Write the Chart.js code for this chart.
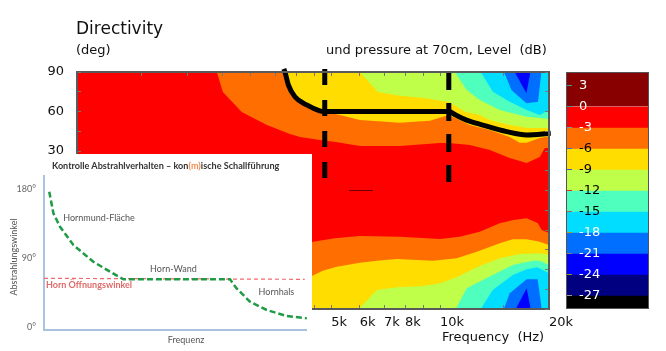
<!DOCTYPE html>
<html>
<head>
<meta charset="utf-8">
<script src="https://cdn.jsdelivr.net/npm/chart.js@4"></script>
<style>
  html, body { margin: 0; padding: 0; background: #fff; }
  body { position: relative; width: 666px; height: 351px; overflow: hidden; font-family: "DejaVu Sans", sans-serif; color: #111; }
  .txt { position: absolute; white-space: pre; font-size: 13px; line-height: 16px; }
  #main { position: absolute; left: 0; top: 0; }
  #barBox { position: absolute; left: 566px; top: 72px; width: 81px; height: 235px; border: 1px solid #555; }
  #barBox canvas { display: block; }
  #inset { position: absolute; left: 0; top: 154px; width: 312px; height: 197px; background: #fff; }
  #inset canvas { position: absolute; left: 0; top: 0; filter: blur(0.35px); }
  #insetTitle { position: absolute; left: 52px; top: 6px; font: bold 9.1px Lato, sans-serif; color: #333; white-space: pre; filter: blur(0.3px); }
  #insetTitle span { color: #f08a50; }
</style>
</head>
<body>
<canvas id="main" width="666" height="351"></canvas>
<div class="txt" style="left:76px;top:18px;font-size:17px;line-height:20px">Directivity</div>
<div class="txt" style="left:76px;top:42px">(deg)</div>
<div class="txt" style="left:326px;top:42px">und pressure at 70cm, Level  (dB)</div>
<div id="barBox"><canvas id="bar" width="81" height="235"></canvas></div>
<div id="inset">
  <canvas id="insetChart" width="312" height="197"></canvas>
  <div id="insetTitle">Kontrolle Abstrahlverhalten – kon<span>(m)</span>ische Schallführung</div>
</div>
<script>
// contour lines: [Hz, deg]
const up3 = [[2415,90],[2510,74.8],[2830,59.6],[3322,49.7],[3845,42.9],[4100,40.6],[4650,38.4],[5150,36.8],[6000,33.8],[7740,33.8],[9980,36.1],[10570,36],[12080,34.6],[13715,30.8],[15575,24.7],[17350,20.9],[18860,25.4],[19470,32.3],[20000,32.3]];
const up6 = [[3725,90],[3845,74.8],[4100,68.7],[4800,59.6],[5285,57.3],[6000,53.5],[7740,51.5],[9370,53],[10570,57.3],[12080,49.7],[13715,45.9],[15575,40.6],[16600,36.3],[17350,36.3],[18860,39.9],[20000,41.2]];
const up9 = [[6000,90],[6730,74.8],[7740,72],[9015,70.3],[10570,67.2],[11770,59.6],[12870,57.3],[13715,53.5],[15575,49.7],[17470,47.5],[20000,47.5]];
const up12 = [[10980,90],[11850,76.3],[12870,68.7],[14620,61.1],[17350,56],[20000,54.3]];
const up15 = [[12950,90],[13990,75],[15575,67.4],[17350,61.1],[18860,57.3],[20000,61.1]];
const up18 = [[15020,90],[15750,76.3],[17320,66.2],[18650,67.4],[19050,90]];
const up21 = [[16080,90],[17320,73.8],[17770,90]];

const low3 = [[4100,-41.5],[4450,-38.9],[5120,-36.3],[6000,-34.6],[7740,-35.1],[9980,-36.8],[11330,-35.1],[12870,-31.3],[14620,-24.9],[15980,-22.4],[17350,-21.1],[18600,-24.7],[19100,-30],[20000,-32.3]];
const low6 = [[4100,-68],[4420,-64.9],[4740,-60.9],[5180,-57.9],[6000,-54.8],[6690,-53.3],[7600,-52],[9550,-53.3],[11120,-51.5],[12630,-46.5],[14620,-40.1],[15880,-37.1],[17350,-37.1],[18860,-38.9],[20000,-41.4]];
const low9 = [[5960,-90],[6690,-75.6],[7600,-73.5],[8960,-72.5],[10000,-70.5],[11120,-65.9],[12630,-58.3],[14620,-51.5],[16600,-48.2],[18860,-47.7],[20000,-49]];
const low12 = [[11050,-90],[11850,-74.3],[13980,-64.2],[15880,-56.6],[18030,-53.3],[18860,-53.3],[20000,-56.6]];
const low15 = [[12950,-90],[13980,-75.6],[15880,-64.2],[17350,-59.9],[18600,-58.3],[20000,-62.9]];
const low18 = [[15000,-90],[15575,-78],[17350,-67.4],[18600,-67.4],[19100,-90]];
const low21 = [[16190,-90],[17350,-74.3],[17800,-90]];

const redBase = [[992,90],[20000,90]];
const darkMark = [[5600,0],[6520,0]];

// black lines drawn over the plot
const overlayCurve = [[3700,92.3],[3725,90.2],[3810,80],[3970,71.2],[4280,65],[4650,60.5],[4800,60],[10570,60],[11050,57.3],[11830,53.5],[13120,49.7],[15280,44.7],[17350,42.2],[20220,43.4]];
const overlayDashA = [[4800,92.3],[4800,9.5]];
const overlayDashB = [[10570,90],[10570,6.4]];

const freqTicks = [1500,2000,2500,3000,3500,4000,4500,5000,6000,7000,8000,9000,10000,15000,20000];
const freqLabels = {5000:'5k',6000:'6k',7000:'7k',8000:'8k',10000:'10k',20000:'20k'};
const levelTicks = [3,0,-3,-6,-9,-12,-15,-18,-21,-24,-27];
const levelLow = [0,-3,-6,-9,-12,-15,-18,-21,-24,-27,-30];
const levelHigh = [6,0,-3,-6,-9,-12,-15,-18,-21,-24,-27];
const levelColors = ['#880000','#ff0000','#ff6e00','#ffdd00','#bfff4a','#4fffbe','#00ddff','#006eff','#0000ff','#000080','#000000'];
const levelTickColors = ['#3a9a9a','#3a9a9a','#7a9a9a','#3a6acc','#3a5ac8','#e03030','#a06a50','#a8a020','#808080','#909020','#999999'];

// inset: percent of the frequency axis, deg
const insetCurve = [[2,176.5],[3.6,148.3],[6.1,130.8],[11.2,107],[18.8,85.2],[25.2,72.2],[30.3,62.2],[46.8,62.2],[71,62.2],[73.5,50.4],[78.6,33],[85,22.2],[92.6,14.3],[100.3,11.3]];
const insetOpening = [[0,63.5],[99.5,62.2]];
const insetTicks = [0,90,180];
const insetNotes = [
  {text:'Hornmund-Fläche', x:21, y:142, color:'#555'},
  {text:'Horn-Wand', x:49.4, y:75.7, color:'#555'},
  {text:'Horn Öffnungswinkel', x:17.2, y:54.8, color:'#e06a6a', weight:'bold'},
  {text:'Hornhals', x:88.7, y:45.7, color:'#555'},
  {text:'Frequenz', x:54.2, y:-17, color:'#555'},
  {text:'Abstrahlungswinkel', x:-11.5, y:91.3, color:'#555', rot:-Math.PI/2}
];

const toPts = arr => arr.map(p => ({x: p[0], y: p[1]}));
const band = (pts, color, fill) => ({data: toPts(pts), backgroundColor: color, borderWidth: 0, borderColor: color, fill: fill, pointRadius: 0, showLine: true});
const ink = (pts, width, dash, mode) => ({data: toPts(pts), borderColor: '#000', borderWidth: width, borderDash: dash, cubicInterpolationMode: mode, fill: false, pointRadius: 0, showLine: true, clip: false});

const mainSets = [
  band(redBase, '#ff0000', 'start'),
  band(up3, levelColors[2], 'end'), band(up6, levelColors[3], 'end'), band(up9, levelColors[4], 'end'),
  band(up12, levelColors[5], 'end'), band(up15, levelColors[6], 'end'), band(up18, levelColors[7], 'end'), band(up21, levelColors[8], 'end'),
  band(low3, levelColors[2], 'start'), band(low6, levelColors[3], 'start'), band(low9, levelColors[4], 'start'),
  band(low12, levelColors[5], 'start'), band(low15, levelColors[6], 'start'), band(low18, levelColors[7], 'start'), band(low21, levelColors[8], 'start'),
  Object.assign(ink(darkMark, 1, [], 'default'), {borderColor: '#700000'}),
  ink(overlayCurve, 5, [], 'monotone'),
  ink(overlayDashA, 5, [16,15], 'default'),
  ink(overlayDashB, 5, [18,13], 'default')
];
// first dataset ends up on top otherwise
mainSets.forEach((d, i) => { d.order = mainSets.length - i; });

const axisGrey = '#5a5a5a';
const tickGrid = {drawOnChartArea: false, color: '#777', tickLength: -4, z: 1};
const axisBorder = {color: axisGrey, width: 2, z: 1};

new Chart(document.getElementById('main'), {
  type: 'scatter',
  data: {datasets: mainSets},
  options: {
    responsive: false,
    animation: false,
    events: [],
    layout: {padding: 0},
    plugins: {legend: {display: false}, tooltip: {enabled: false}},
    scales: {
      x: {
        type: 'logarithmic', position: 'bottom', min: 992, max: 20000,
        grid: tickGrid, border: axisBorder,
        afterBuildTicks: s => { s.ticks = freqTicks.map(v => ({value: v})); },
        afterFit: s => { s.height = 42; },
        ticks: {
          autoSkip: false, maxRotation: 0, align: 'start', padding: 10, color: '#111',
          font: {family: 'DejaVu Sans', size: 13},
          callback: v => freqLabels[v] || ''
        }
      },
      xTop: {
        type: 'logarithmic', axis: 'x', position: 'top', min: 992, max: 20000,
        grid: tickGrid, border: axisBorder,
        afterBuildTicks: s => { s.ticks = freqTicks.map(v => ({value: v})); },
        afterFit: s => { s.height = 72; },
        ticks: {autoSkip: false, maxRotation: 0, callback: () => ''}
      },
      y: {
        position: 'left', min: -90, max: 90,
        grid: tickGrid, border: axisBorder,
        afterFit: s => { s.width = 77; },
        ticks: {
          stepSize: 15, padding: 17, color: '#111', autoSkip: false,
          font: {family: 'DejaVu Sans', size: 13},
          callback: v => (v % 30 === 0 ? String(v) : '')
        }
      },
      yRight: {
        axis: 'y', position: 'right', min: -90, max: 90,
        grid: tickGrid, border: axisBorder,
        afterFit: s => { s.width = 117; },
        ticks: {stepSize: 15, autoSkip: false, callback: () => ''}
      }
    }
  },
  plugins: [{
    // x axis title sits under the right end of the plot
    id: 'freqTitle',
    afterDraw(chart) {
      const c = chart.ctx;
      c.save();
      c.font = '13px "DejaVu Sans"';
      c.fillStyle = '#111';
      c.textBaseline = 'middle';
      c.fillText('Frequency  (Hz)', 442, 338);
      c.restore();
    }
  }]
});

new Chart(document.getElementById('bar'), {
  type: 'bar',
  data: {
    labels: ['dB'],
    datasets: levelColors.map((col, i) => ({data: [[levelLow[i], levelHigh[i]]], backgroundColor: col, barPercentage: 1, categoryPercentage: 1, grouped: false}))
  },
  options: {
    responsive: false,
    animation: false,
    events: [],
    layout: {autoPadding: false, padding: 0},
    plugins: {legend: {display: false}, tooltip: {enabled: false}},
    scales: {
      x: {display: false},
      y: {
        min: -28.8, max: 4.76,
        border: {display: false},
        grid: {drawOnChartArea: false, tickLength: -5, z: 1, color: ctx => levelTickColors[ctx.index]},
        afterBuildTicks: s => { s.ticks = levelTicks.map(v => ({value: v})); },
        afterFit: s => { s.width = 0; s.paddingTop = 0; s.paddingBottom = 0; },
        ticks: {
          mirror: true, padding: 12, z: 1, autoSkip: false,
          font: {family: 'DejaVu Sans', size: 13},
          color: ctx => (ctx.tick.value >= -3 || ctx.tick.value <= -18 ? '#fff' : '#000'),
          callback: v => String(v)
        }
      }
    }
  }
});

new Chart(document.getElementById('insetChart'), {
  type: 'scatter',
  data: {
    datasets: [
      {data: toPts(insetCurve), borderColor: '#1f9a45', borderWidth: 2.5, borderDash: [6,3], tension: 0, pointRadius: 0, showLine: true, fill: false, clip: false, order: 1},
      {data: toPts(insetOpening), borderColor: '#ef6a6a', borderWidth: 1.2, borderDash: [4,3], pointRadius: 0, showLine: true, fill: false, clip: false, order: 2}
    ]
  },
  options: {
    responsive: false,
    animation: false,
    events: [],
    layout: {padding: {top: 22, right: 6}},
    plugins: {legend: {display: false}, tooltip: {enabled: false}},
    scales: {
      x: {
        min: 0, max: 100,
        grid: {display: false},
        border: {color: '#a9c2e0', width: 2},
        afterFit: s => { s.height = 21; },
        ticks: {display: false}
      },
      y: {
        min: -3.9, max: 197,
        grid: {display: false, drawTicks: false},
        border: {color: '#a9c2e0', width: 2},
        afterBuildTicks: s => { s.ticks = insetTicks.map(v => ({value: v})); },
        afterFit: s => { s.width = 44; },
        ticks: {padding: 8, color: '#666', font: {family: 'Lato', size: 9}, callback: v => v + '°'}
      }
    }
  },
  plugins: [{
    id: 'insetNotes',
    afterDatasetsDraw(chart) {
      const c = chart.ctx;
      insetNotes.forEach(n => {
        c.save();
        c.translate(chart.scales.x.getPixelForValue(n.x), chart.scales.y.getPixelForValue(n.y));
        if (n.rot) c.rotate(n.rot);
        c.font = (n.weight || 'normal') + ' 9px Lato';
        c.fillStyle = n.color;
        c.textAlign = 'center';
        c.textBaseline = 'middle';
        c.fillText(n.text, 0, 0);
        c.restore();
      });
    }
  }]
});
</script>
</body>
</html>
